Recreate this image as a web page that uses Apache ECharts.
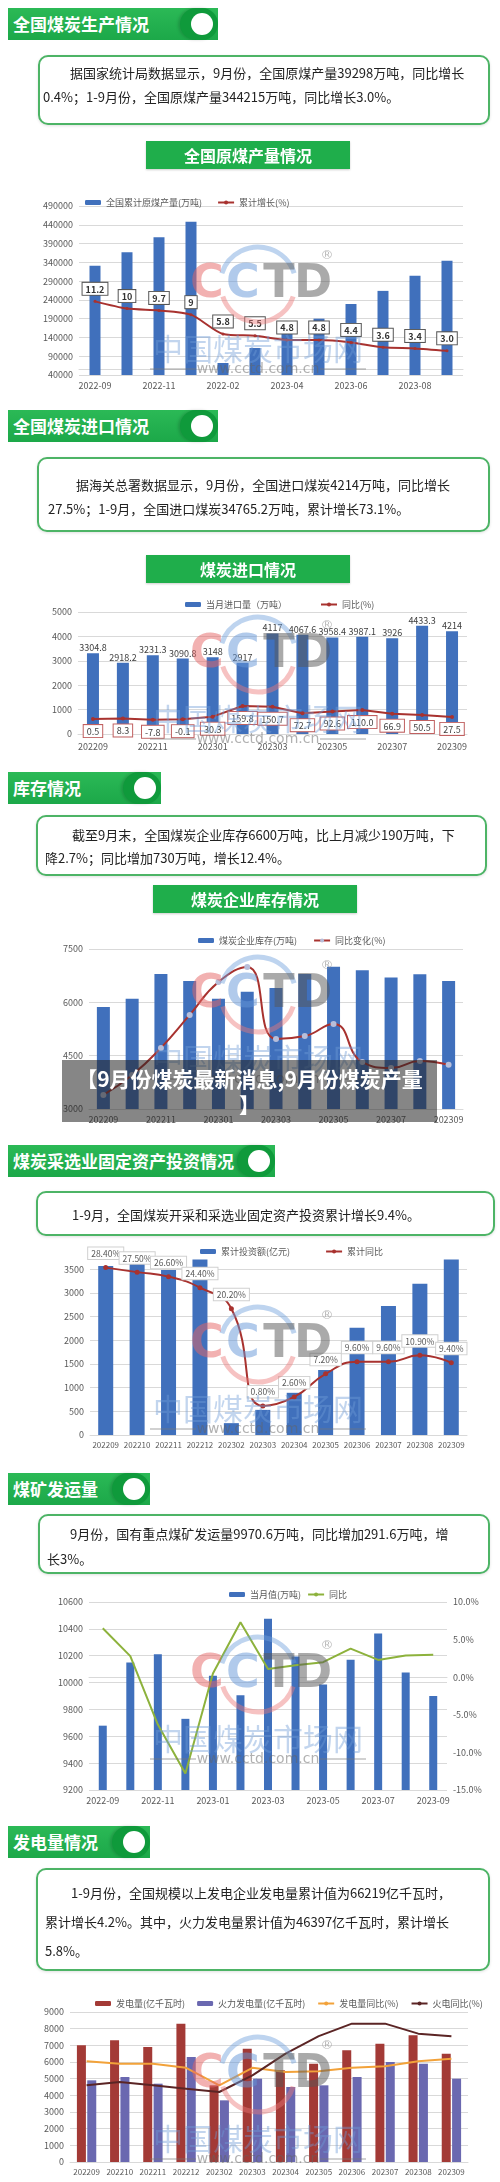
<!DOCTYPE html>
<html><head><meta charset="utf-8">
<script src="https://cdn.jsdelivr.net/npm/echarts@6/dist/echarts.min.js"></script>
<style>
html,body{margin:0;padding:0;background:#fff;}
#page{position:relative;width:500px;height:2182px;overflow:hidden;font-family:"Noto Sans CJK SC","Noto Sans",sans-serif;}
#chart{position:absolute;left:0;top:0;width:500px;height:2182px;}
.hdr{position:absolute;left:8px;height:32px;background:linear-gradient(#2bb956,#1ca849);color:#fff;font-weight:bold;font-size:17px;line-height:32px;padding-left:5px;box-sizing:border-box;white-space:nowrap;}
.cap{position:absolute;top:0;right:0;width:38px;height:32px;border-radius:16px;background:#0f9a3b;box-shadow:-2px 0 3px rgba(0,0,0,0.15);}
.cap i{position:absolute;left:11px;top:5px;width:22px;height:22px;border-radius:50%;background:#fff;}
.box{position:absolute;border:2px solid #4db466;border-radius:10px;background:#fff;box-shadow:0 1px 3px rgba(0,0,0,0.12);font-size:13px;color:#222;box-sizing:border-box;white-space:nowrap;}
.ttl{position:absolute;background:#1fae4b;color:#fff;font-weight:bold;font-size:16px;text-align:center;height:28px;line-height:28px;width:204px;box-shadow:0 1px 2px rgba(0,0,0,0.2);}
.ovl{position:absolute;left:62px;top:1060px;width:375px;height:62px;background:rgba(35,35,35,0.55);color:#fff;font-weight:bold;font-size:21px;line-height:26px;text-align:center;box-sizing:border-box;padding-top:5px;white-space:nowrap;}
</style></head><body>
<div id="page">
<div id="chart"></div>

<div class="hdr" style="top:8px;width:210px">全国煤炭生产情况<div class="cap"><i></i></div></div>
<div class="box" style="left:38px;top:55px;width:452px;height:70px;padding:4px 0 0 3px;line-height:24px;text-indent:27px">据国家统计局数据显示，9月份，全国原煤产量39298万吨，同比增长<br>0.4%；1-9月份，全国原煤产量344215万吨，同比增长3.0%。</div>
<div class="ttl" style="left:146px;top:141px">全国原煤产量情况</div>

<div class="hdr" style="top:410px;width:210px">全国煤炭进口情况<div class="cap"><i></i></div></div>
<div class="box" style="left:37px;top:457px;width:453px;height:75px;padding:14px 0 0 9px;line-height:24px;text-indent:28px">据海关总署数据显示，9月份，全国进口煤炭4214万吨，同比增长<br>27.5%；1-9月，全国进口煤炭34765.2万吨，累计增长73.1%。</div>
<div class="ttl" style="left:146px;top:555px">煤炭进口情况</div>

<div class="hdr" style="top:772px;width:153px">库存情况<div class="cap"><i></i></div></div>
<div class="box" style="left:36px;top:815px;width:451px;height:61px;padding:6px 0 0 7px;line-height:23px;text-indent:27px">截至9月末，全国煤炭企业库存6600万吨，比上月减少190万吨，下<br>降2.7%；同比增加730万吨，增长12.4%。</div>
<div class="ttl" style="left:153px;top:885px">煤炭企业库存情况</div>

<div class="ovl">【9月份煤炭最新消息,9月份煤炭产量<br>】</div>

<div class="hdr" style="top:1145px;width:267px">煤炭采选业固定资产投资情况<div class="cap"><i></i></div></div>
<div class="box" style="left:36px;top:1191px;width:459px;height:45px;padding:10px 0 0 7px;line-height:24px;text-indent:27px">1-9月，全国煤炭开采和采选业固定资产投资累计增长9.4%。</div>

<div class="hdr" style="top:1473px;width:142px">煤矿发运量<div class="cap"><i></i></div></div>
<div class="box" style="left:38px;top:1514px;width:452px;height:60px;padding:5px 0 0 7px;line-height:25px;text-indent:23px">9月份，国有重点煤矿发运量9970.6万吨，同比增加291.6万吨，增<br>长3%。</div>

<div class="hdr" style="top:1826px;width:142px">发电量情况<div class="cap"><i></i></div></div>
<div class="box" style="left:36px;top:1868px;width:454px;height:103px;padding:8px 0 0 7px;line-height:29px;text-indent:26px">1-9月份，全国规模以上发电企业发电量累计值为66219亿千瓦时，<br>累计增长4.2%。其中，火力发电量累计值为46397亿千瓦时，累计增长<br>5.8%。</div>
</div>
<script>
// ---------- data ----------
const cats1 = ['2022-09','2022-10','2022-11','2022-12','2022-02','2023-03','2023-04','2023-05','2023-06','2023-07','2023-08','2023-09'];
const prod1 = [331000, 367000, 407000, 448000, 72000, 112000, 151000, 190000, 229000, 264000, 304000, 344215];
const growth1 = [11.2, 10, 9.7, 9, 5.8, 5.5, 4.8, 4.8, 4.4, 3.6, 3.4, 3.0];
const growthLabels1 = ['11.2','10','9.7','9','5.8','5.5','4.8','4.8','4.4','3.6','3.4','3.0'];

const cats2 = ['202209','202210','202211','202212','202301','202302','202303','202304','202305','202306','202307','202308','202309'];
const import2 = [3304.8, 2918.2, 3231.3, 3090.8, 3148, 2917, 4117, 4067.6, 3958.4, 3987.1, 3926, 4433.3, 4214];
const importYoy2 = [0.5, 8.3, -7.8, -0.1, 30.3, 159.8, 150.7, 72.7, 92.6, 110.0, 66.9, 50.5, 27.5];

const cats3 = ['202209','202210','202211','202212','202301','202302','202303','202304','202305','202306','202307','202308','202309'];
const stock3 = [5870, 6100, 6800, 6600, 6100, 6300, 6400, 6800, 7000, 6900, 6700, 6790, 6600];
const stockYoy3 = [4.4, 10.6, 19.1, 29.4, 39.7, 44.4, 21.9, 22.8, 26.6, 14.7, 12.8, 15.0, 13.8];

const cats4 = ['202209','202210','202211','202212','202302','202303','202304','202305','202306','202307','202308','202309'];
const invest4 = [3565, 3630, 3480, 4000, 250, 530, 890, 1370, 2260, 2720, 3190, 3760];
const investYoy4 = [28.4, 27.5, 26.6, 24.4, 20.2, 0.8, 2.6, 7.2, 9.6, 9.6, 10.9, 9.4];

const cats5 = ['2022-09','2022-10','2022-11','2022-12','2023-01','2023-02','2023-03','2023-04','2023-05','2023-06','2023-07','2023-08','2023-09'];
const ship5 = [9679, 10150, 10210, 9730, 10050, 9905, 10475, 10195, 9985, 10170, 10365, 10075, 9900];
const shipYoy5 = [6.5, 2.8, -6.3, -12.8, 0.5, 7.3, 1.1, 1.6, 2.0, 3.8, 2.3, 2.9, 3.0];

const cats6 = ['202209','202210','202211','202212','202302','202303','202304','202305','202306','202307','202308','202309'];
const power6 = [7000, 7300, 6900, 8300, 4600, 6800, 5500, 5900, 6700, 7100, 7600, 6500];
const thermal6 = [4900, 5100, 4700, 6300, 3700, 5000, 4500, 4600, 5100, 6000, 5900, 5000];
const powerYoy6 = [4.1, 3.8, 3.8, 3.3, 1.2, 3.3, 2.8, 2.9, 3.3, 3.5, 4.1, 4.4];
const thermalYoy6 = [1.2, 1.6, 1.2, 0.8, 0.4, 2.4, 5.0, 7.1, 8.6, 8.6, 7.4, 7.1];

// ---------- styles ----------
const FONT = '"Noto Sans CJK SC","Noto Sans",sans-serif';
const AX = '#595959', GRID = '#D9D9D9', BLUE = '#4070BC', RED = '#A8322F';
const plain = v => String(v);
function xAx(gi, data, interval, margin, fs){
  return {type:'category', gridIndex:gi, data:data, axisTick:{show:false},
    axisLine:{lineStyle:{color:GRID}}, axisLabel:{interval:interval, fontSize:fs || 9, color:AX, margin:margin, fontFamily:FONT}};
}
function yAx(gi, min, max, interval, extra){
  return Object.assign({type:'value', gridIndex:gi, min:min, max:max, interval:interval,
    axisLine:{show:false}, axisTick:{show:false}, splitLine:{lineStyle:{color:GRID}},
    axisLabel:{fontSize:9, color:AX, margin:6, fontFamily:FONT, formatter:plain}}, extra || {});
}
function hid(gi, min, max){ return {type:'value', gridIndex:gi, min:min, max:max, show:false, splitLine:{show:false}}; }
function legend(top, left, names, gap){
  return {top:top, left:left, itemWidth:16, itemHeight:5, itemGap:gap, data:names,
    textStyle:{fontSize:9, color:AX, fontFamily:FONT}};
}
function watermark(c){
  const t = (x, y, s, fill, font) => ({type:'text', z:20, silent:true, x:x, y:y,
    style:{text:s, fill:fill, font:font, align:'center', verticalAlign:'middle', textAlign:'center', textVerticalAlign:'middle'}});
  return [
    {type:'arc', z:19, silent:true, shape:{cx:258, cy:c, r:38, startAngle:Math.PI*1.1, endAngle:Math.PI*1.9}, style:{stroke:'rgba(110,160,220,0.45)', lineWidth:5, fill:null}},
    {type:'arc', z:19, silent:true, shape:{cx:258, cy:c, r:37, startAngle:Math.PI*0.1, endAngle:Math.PI*0.9}, style:{stroke:'rgba(235,120,120,0.45)', lineWidth:5, fill:null}},
    t(207, c, 'C', 'rgba(230,100,100,0.5)', 'bold 46px "DejaVu Sans"'),
    t(243, c, 'C', 'rgba(100,150,215,0.5)', 'bold 46px "DejaVu Sans"'),
    t(279, c, 'T', 'rgba(85,85,85,0.5)', 'bold 46px "DejaVu Sans"'),
    t(313, c, 'D', 'rgba(85,85,85,0.5)', 'bold 46px "DejaVu Sans"'),
    t(327, c - 29, '®', 'rgba(140,140,140,0.6)', '13px "DejaVu Sans"'),
    t(258, c + 64, '中国煤炭市场网', 'rgba(110,155,215,0.42)', '30px "Noto Sans CJK SC"'),
    t(258, c + 84, 'www.cctd.com.cn', 'rgba(100,100,100,0.5)', '14px "DejaVu Sans"'),
    {type:'line', z:19, silent:true, shape:{x1:150, y1:c + 84, x2:196, y2:c + 84}, style:{stroke:'rgba(120,120,120,0.45)', lineWidth:1.5}},
    {type:'line', z:19, silent:true, shape:{x1:320, y1:c + 84, x2:366, y2:c + 84}, style:{stroke:'rgba(120,120,120,0.45)', lineWidth:1.5}}
  ];
}

const chart = echarts.init(document.getElementById('chart'), null, {renderer:'canvas', width:500, height:2182});
const option = {
  animation:false,
  textStyle:{fontFamily:FONT},
  grid:[
    {left:79, top:206, width:384, height:169},
    {left:78, top:612, width:389, height:122},
    {left:89, top:949, width:374, height:160},
    {left:90, top:1259.6, width:377, height:175.4},
    {left:89, top:1602, width:358, height:188},
    {left:70, top:2012, width:398, height:150}
  ],
  legend:[
    legend(193, 80, ['全国累计原煤产量(万吨)','累计增长(%)'], 15),
    legend(595, 180, ['当月进口量（万吨）','同比(%)'], 33),
    legend(931, 193, ['煤炭企业库存(万吨)','同比变化(%)'], 16),
    legend(1242, 195, ['累计投资额(亿元)','累计同比'], 35),
    legend(1585, 224, ['当月值(万吨)','同比'], 6),
    legend(1994, 90, ['发电量(亿千瓦时)','火力发电量(亿千瓦时)','发电量同比(%)','火电同比(%)'], 12)
  ],
  xAxis:[
    xAx(0, cats1, 1, 6),
    xAx(1, cats2, 1, 8),
    xAx(2, cats3, 1, 6),
    xAx(3, cats4, 0, 6, 8),
    xAx(4, cats5, 1, 6),
    xAx(5, cats6, 0, 6, 8)
  ],
  yAxis:[
    yAx(0, 40000, 490000, 50000), hid(0, -1, 27),
    yAx(1, 0, 5000, 1000), hid(1, -180, 1300),
    yAx(2, 3000, 7500, 1500), hid(2, 0, 50),
    yAx(3, 0, 3700, 500, {axisLabel:{fontSize:9, color:AX, margin:6, fontFamily:FONT, formatter:plain, showMaxLabel:false}, splitLine:{showMaxLine:false, lineStyle:{color:GRID}}}), hid(3, -5, 30),
    yAx(4, 9200, 10600, 200),
    yAx(4, -15, 10, 5, {position:'right', splitLine:{show:false}, axisLabel:{fontSize:9, color:AX, margin:6, fontFamily:FONT, formatter:v => v.toFixed(1) + '%'}}),
    yAx(5, 0, 9000, 1000), hid(5, -8, 10)
  ],
  series:[
    {name:'全国累计原煤产量(万吨)', type:'bar', xAxisIndex:0, yAxisIndex:0, data:prod1, barWidth:11, itemStyle:{color:BLUE}},
    {name:'累计增长(%)', type:'line', xAxisIndex:0, yAxisIndex:1, data:growth1, smooth:0.25, symbol:'circle', symbolSize:3,
      lineStyle:{color:RED, width:2}, itemStyle:{color:RED},
      label:{show:true, position:'top', distance:5, formatter:p => growthLabels1[p.dataIndex], backgroundColor:'#fff', borderColor:'#555', borderWidth:1,
        padding:[2,3,1,3], fontSize:9, fontWeight:'bold', color:'#333'}},

    {name:'当月进口量（万吨）', type:'bar', xAxisIndex:1, yAxisIndex:2, data:import2, barWidth:12, itemStyle:{color:BLUE},
      label:{show:true, position:'top', distance:1, fontSize:9, color:'#404040'}},
    {name:'同比(%)', type:'line', xAxisIndex:1, yAxisIndex:3, data:importYoy2, symbol:'circle', symbolSize:4,
      lineStyle:{color:RED, width:2}, itemStyle:{color:RED},
      label:{show:true, position:'bottom', distance:4, formatter:p => p.value.toFixed(1), backgroundColor:'#fff', borderColor:'#C06060', borderWidth:1,
        padding:[2,3,1,3], fontSize:9, color:'#404040'}},

    {name:'煤炭企业库存(万吨)', type:'bar', xAxisIndex:2, yAxisIndex:4, data:stock3, barWidth:13, itemStyle:{color:BLUE}},
    {name:'同比变化(%)', type:'line', xAxisIndex:2, yAxisIndex:5, data:stockYoy3, smooth:0.5, symbol:'circle', symbolSize:6,
      lineStyle:{color:RED, width:2}, itemStyle:{color:'#B7BEDA'}},

    {name:'累计投资额(亿元)', type:'bar', xAxisIndex:3, yAxisIndex:6, data:invest4, barWidth:15, itemStyle:{color:BLUE}},
    {name:'累计同比', type:'line', xAxisIndex:3, yAxisIndex:7, data:investYoy4, smooth:0.5, symbol:'circle', symbolSize:5,
      lineStyle:{color:RED, width:2}, itemStyle:{color:RED},
      label:{show:true, position:'top', distance:6, formatter:p => p.value.toFixed(2) + '%', backgroundColor:'#fff', borderColor:'#D0D0D0', borderWidth:1,
        padding:[2,3,1,3], fontSize:8.5, color:'#595959'}},

    {name:'当月值(万吨)', type:'bar', xAxisIndex:4, yAxisIndex:8, data:ship5, barWidth:8, itemStyle:{color:BLUE}},
    {name:'同比', type:'line', xAxisIndex:4, yAxisIndex:9, data:shipYoy5, symbol:'none', lineStyle:{color:'#8DB23C', width:2}, itemStyle:{color:'#8DB23C'}},

    {name:'发电量(亿千瓦时)', type:'bar', xAxisIndex:5, yAxisIndex:10, data:power6, barWidth:9, barGap:'15%', itemStyle:{color:'#A33A36'}},
    {name:'火力发电量(亿千瓦时)', type:'bar', xAxisIndex:5, yAxisIndex:10, data:thermal6, barWidth:9, itemStyle:{color:'#6A68B0'}},
    {name:'发电量同比(%)', type:'line', xAxisIndex:5, yAxisIndex:11, data:powerYoy6, symbol:'none', lineStyle:{color:'#F2A23A', width:2}, itemStyle:{color:'#F2A23A'}},
    {name:'火电同比(%)', type:'line', xAxisIndex:5, yAxisIndex:11, data:thermalYoy6, symbol:'none', lineStyle:{color:'#5B2525', width:2}, itemStyle:{color:'#5B2525'}}
  ],
  graphic:[].concat(watermark(285), watermark(655), watermark(995), watermark(1345), watermark(1675), watermark(2075))
};
chart.setOption(option);
</script>
</body></html>
